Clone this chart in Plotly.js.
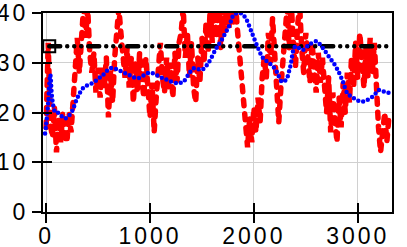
<!DOCTYPE html>
<html>
<head>
<meta charset="utf-8">
<script src="https://cdn.plot.ly/plotly-3.0.1.min.js"></script>
<style>
  body { margin: 0; background: #fff; }
  #fig { width: 407px; height: 247px; }
  .js-line { stroke-linecap: round !important; }
  .xtick text, .ytick text { letter-spacing: 3px; }
</style>
</head>
<body>
<div id="fig"></div>
<script>
  // raw series (red), sampled every 20 units
  const redStep = 20 ;
  const redY = [17, 34, 18, 15, 21, 12, 19, 14, 20, 15, 14, 20, 16, 24, 31, 35, 28, 38, 41, 35,
                41, 32, 28, 32, 24, 29, 23, 29, 25, 31, 19, 28, 22, 31, 35, 41, 36, 30, 27, 33,
                25, 31, 22, 30, 24, 32, 26, 23, 31, 25, 19, 26, 16, 23, 28, 34, 27, 24, 31, 25,
                30, 23, 32, 26, 34, 36, 41, 31, 36, 27, 34, 25, 22, 31, 26, 35, 30, 38, 32, 41,
                34, 42, 35, 42, 33, 41, 36, 42, 37, 43, 38, 43, 37, 32, 27, 20, 16, 13, 19, 14,
                21, 16, 23, 18, 27, 31, 27, 36, 30, 39, 32, 25, 18, 25, 31, 37, 41, 33, 42, 34,
                29, 37, 42, 33, 28, 36, 30, 26, 34, 28, 24, 32, 26, 31, 23, 20, 27, 16, 24, 18,
                14, 23, 17, 26, 20, 28, 22, 31, 25, 34, 27, 36, 29, 25, 33, 27, 35, 28, 34, 23,
                17, 12, 17, 20, 14, 19] ;
  const redX = redY.map ((v, k) => k * redStep) ;

  // smoothed series (blue)
  const blueX = [-10, 0, 20, 40, 60, 90, 120, 180, 240, 300, 360, 460, 550, 620, 690, 790, 880, 1000,
                 1100, 1160, 1260, 1320, 1370, 1420, 1500, 1560, 1630, 1690, 1760, 1810, 1870, 1920,
                 1970, 2030, 2090, 2150, 2210, 2270, 2310, 2350, 2400, 2470, 2530, 2600, 2640, 2710,
                 2790, 2850, 2900, 2960, 3030, 3090, 3160, 3200, 3250, 3320] ;
  const blueY = [15.8, 17.5, 22, 27.6, 22.5, 20, 19.9, 18.8, 19.9, 22.9, 25, 26.1, 27.6, 28.9, 28.6,
                 27.6, 26.9, 28, 27.1, 26.6, 25.9, 26.2, 27.6, 28.9, 28.6, 29.9, 32.6, 34.6, 37.3,
                 39.7, 40, 39, 36.6, 33.5, 30.9, 29.9, 28.6, 26.2, 26.6, 29.2, 33.3, 32.6, 33.6,
                 34.3, 33.6, 31.6, 29.2, 26.6, 23.9, 22.9, 22.2, 22.5, 23.5, 24.5, 24.2, 23.9] ;

  // overall mean (black)
  const meanX = [30, 3290] ;
  const meanY = [33.3, 33.3] ;

  const xTicks = [0, 1000, 2000, 3000] ;
  const yTicks = [0, 10, 20, 30, 40] ;
  const xRange = [-30, 3330] ;
  const yRange = [0, 40] ;

  const series = [] ;
  series.push ({x: redX, y: redY, mode: 'lines', showlegend: false,
                line: {color: '#ff0000', width: 5.5, dash: '6px,8px'}}) ;
  series.push ({x: meanX, y: meanY, mode: 'lines', showlegend: false,
                line: {color: '#000000', width: 4.5, dash: '11px,7px,0px,7px,0px,7px,0px,7px'}}) ;
  series.push ({x: blueX, y: blueY, mode: 'lines', showlegend: false,
                line: {color: '#0000ff', width: 4.5, dash: '0px,5px', shape: 'spline'}}) ;
  // start marker, on the overlay axes so they get drawn (inner tick halves)
  series.push ({x: [meanX[0]], y: [meanY[0]], mode: 'markers', showlegend: false,
                xaxis: 'x2', yaxis: 'y2',
                marker: {symbol: 'square-open', size: 12, color: '#000000',
                         line: {width: 2, color: '#000000'}}}) ;

  const fnt = {family: 'Liberation Sans, Arial, sans-serif', size: 23, color: '#000'} ;
  const axBase = {showline: true, linecolor: '#000', linewidth: 2, mirror: true,
                  ticks: 'outside', ticklen: 9, tickwidth: 2, tickcolor: '#000',
                  zeroline: false, tickfont: fnt} ;
  const inBase = {ticks: 'inside', ticklen: 9, tickwidth: 2, tickcolor: '#000',
                  showticklabels: false, showgrid: false, zeroline: false, showline: false} ;

  const layout = {
    width: 407, height: 247,
    margin: {l: 43, r: 15, t: 13, b: 35},
    paper_bgcolor: '#fff', plot_bgcolor: '#fff',
    xaxis: Object.assign ({}, axBase, {range: xRange, tickvals: xTicks, ticklabelstandoff: -7,
                         showgrid: true, gridcolor: '#d0d0d0', gridwidth: 1}),
    yaxis: Object.assign ({}, axBase, {range: yRange, tickvals: yTicks, ticklabelstandoff: -1,
                         showgrid: true, gridcolor: '#d0d0d0', gridwidth: 1}),
    xaxis2: Object.assign ({}, inBase, {overlaying: 'x', anchor: 'y2', range: xRange, tickvals: xTicks}),
    yaxis2: Object.assign ({}, inBase, {overlaying: 'y', anchor: 'x2', range: yRange, tickvals: yTicks})
  } ;

  Plotly.newPlot ('fig', series, layout, {staticPlot: true, displayModeBar: false}) ;
</script>
</body>
</html>
